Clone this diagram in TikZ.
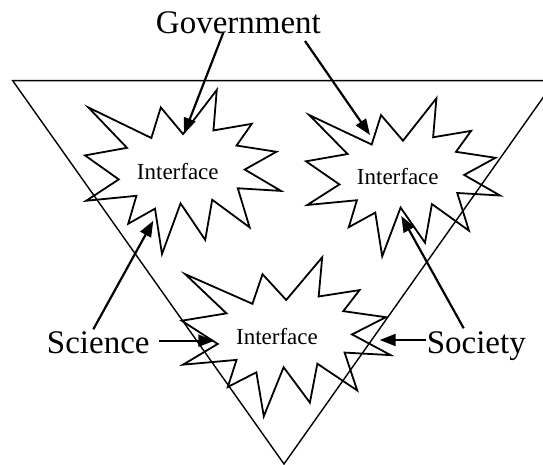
\documentclass[tikz,border=0pt]{standalone}
\usepackage{fontspec}
\setmainfont{Liberation Serif}
\usetikzlibrary{arrows.meta}

\tikzset{
  burstline/.style={line width=1.8pt, line join=miter},
  burst/.pic={
    \draw[burstline] (50,26.85) -- (67.23,0) -- (65.53,24.65) -- (85.09,20.63)
      -- (77.32,33.87) -- (97.67,37.67) -- (81.51,48.50) -- (100,61.53)
      -- (77.95,59.92) -- (84.00,83.77) -- (64.91,66.93) -- (61.33,91.38)
      -- (48.76,69.14) -- (39.28,100) -- (35.72,72.35) -- (22.05,81.56)
      -- (26.24,64.52) -- (0.63,67.53) -- (17.23,54.51) -- (0,39.88)
      -- (21.42,35.26) -- (1.71,10.63) -- (33.85,29.26) -- (38.67,10.63) -- cycle;
  },
  face/.style={font=\fontsize{23}{27}\selectfont, inner sep=0pt},
  word/.style={font=\fontsize{33}{40}\selectfont, inner sep=0pt},
  link/.style={->, line width=2.2pt},
}

\begin{document}
\begin{tikzpicture}[x=1pt, y=-1pt, >={Triangle[length=16pt,width=12pt]}]
    \useasboundingbox (0,0) rectangle (543,465);
    \clip (0,0) rectangle (543,465);

    % funnel
    \draw[line width=1.4pt] (12.7,80.7) -- (555,80.7) -- (284,464) -- cycle;

    % the three interfaces
    \pic[xscale=1.96, yscale=1.64] (burst-l) at (85,90) {burst};
    \pic[xscale=1.94, yscale=1.58] (burst-r) at (306,98.3) {burst};
    \pic[xscale=2.09, yscale=1.59] (burst-b) at (181.7,257.3) {burst};

    \node[face, anchor=base] (face-l) at (177.8,180) {Interface};
    \node[face, anchor=base] (face-r) at (397.8,185) {Interface};
    \node[face, anchor=base] (face-b) at (277,344) {Interface};

    \node[word, anchor=base] (gov) at (238.4,33.3) {Government};
    \node[word, anchor=base] (sci) at (98.3,353.3) {Science};
    \node[word, anchor=base] (soc) at (476.3,353.3) {Society};

    \coordinate (gov-a) at (223.3,32.7);
    \coordinate (gov-b) at (305,41);
    \coordinate (sci-a) at (93.3,329.3);
    \coordinate (sci-b) at (159.3,340.7);
    \coordinate (soc-a) at (463.7,328.3);
    \coordinate (soc-b) at (426.3,340);

    \coordinate (tip-l-top) at (184,134);
    \coordinate (tip-r-top) at (370,135);
    \coordinate (tip-l-low) at (153.3,220.7);
    \coordinate (tip-r-low) at (401.3,216);
    \coordinate (tip-b-left) at (214.3,340.7);
    \coordinate (tip-b-right) at (379.7,340);

    \draw[link] (gov-a) -- (tip-l-top);
    \draw[link] (gov-b) -- (tip-r-top);
    \draw[link] (sci-a) -- (tip-l-low);
    \draw[link] (sci-b) -- (tip-b-left);
    \draw[link] (soc-a) -- (tip-r-low);
    \draw[link] (soc-b) -- (tip-b-right);
\end{tikzpicture}
\end{document}
